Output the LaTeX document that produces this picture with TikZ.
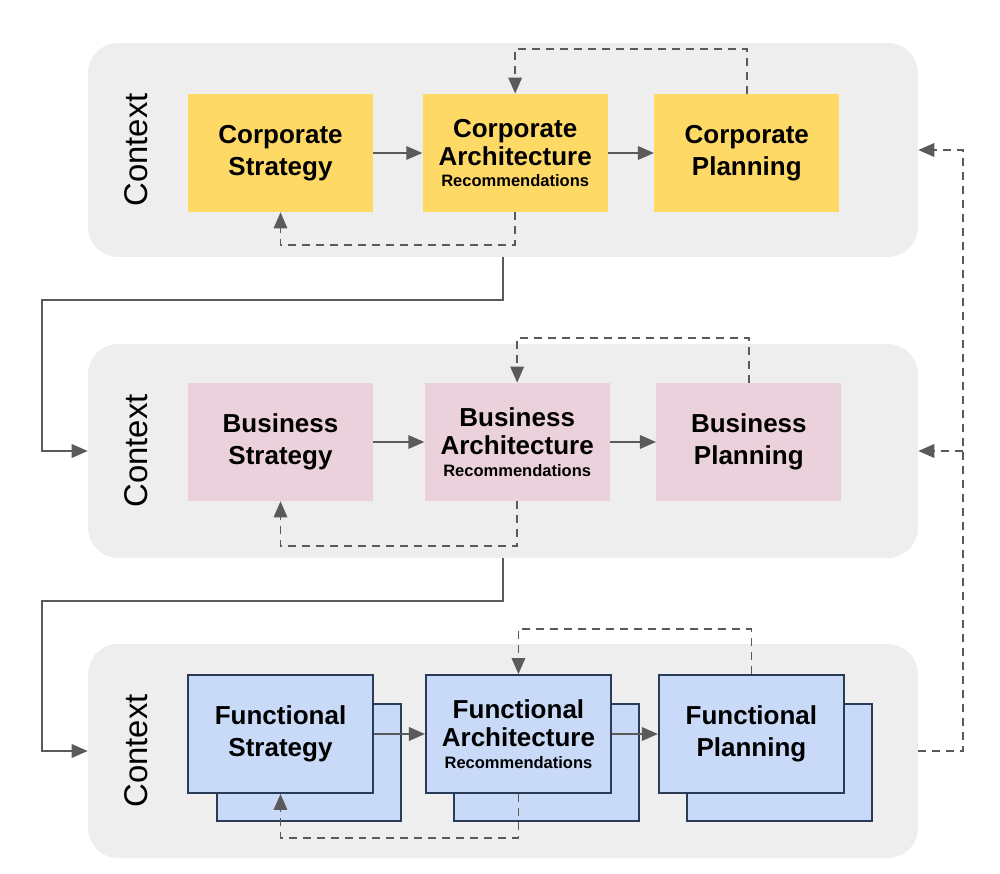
\documentclass[tikz,border=0pt]{standalone}
\usepackage{fontspec}
\setmainfont{Liberation Sans}
\usetikzlibrary{positioning,arrows.meta,shadows}

\definecolor{bandgray}{HTML}{EEEEEE}
\definecolor{corpyellow}{HTML}{FFD966}
\definecolor{buspink}{HTML}{EAD1DC}
\definecolor{funcblue}{HTML}{C9DAF8}
\definecolor{funcedge}{HTML}{2A3B57}
\definecolor{linegray}{HTML}{5A5A5A}

\begin{document}
\begin{tikzpicture}[
        x=0.02cm, y=-0.02cm,
        band/.style={
            rectangle, rounded corners=0.6cm, fill=bandgray, minimum width=16.6cm, minimum height=4.28cm
        },
        context/.style={
            rotate=90, font=\fontsize{18.7}{22}\selectfont
        },
        stage/.style={
            rectangle, minimum width=3.7cm, minimum height=2.36cm, align=center, inner sep=0pt,
            font=\fontsize{14.8}{18.2}\selectfont\bfseries
        },
        archstage/.style={
            stage, font=\fontsize{14.8}{15.9}\selectfont\bfseries
        },
        corporate/.style={fill=corpyellow},
        business/.style={fill=buspink},
        functional/.style={
            fill=funcblue, draw=funcedge, line width=0.04cm,
            copy shadow={shadow xshift=0.57cm, shadow yshift=-0.57cm, fill=funcblue, draw=funcedge, line width=0.04cm}
        },
        flow/.style={draw=linegray, line width=0.035cm, -{Triangle[length=0.32cm,width=0.27cm]}},
        feedback/.style={flow, dash pattern=on 0.16cm off 0.12cm},
    ]
    \useasboundingbox (0,0) rectangle (1000,874);

    % the three context bands
    \node (corpband) [band] at (503,150) {};
    \node (busband) [band] at (503,451) {};
    \node (funcband) [band] at (503,751) {};
    \node (corpcontext) [context] at ([xshift=0.96cm]corpband.west) {Context};
    \node (buscontext) [context] at ([xshift=0.96cm]busband.west) {Context};
    \node (funccontext) [context] at ([xshift=0.96cm]funcband.west) {Context};

    % corporate level
    \node (cs) [stage,corporate] at (280.5,153) {Corporate\\Strategy};
    \node (ca) [archstage,corporate,right=0.98cm of cs] {Corporate\\Architecture\\[-3.5pt]{\fontsize{9.4}{11}\selectfont Recommendations}};
    \node (cp) [stage,corporate,right=0.92cm of ca] {Corporate\\Planning};
    \draw[flow] (cs) -- (ca);
    \draw[flow] (ca) -- (cp);
    \draw[feedback] (cp.north) -- ++(0,-45) -| (ca.north);
    \draw[feedback] (ca.south) -- ++(0,33) -| (cs.south);

    % business level
    \node (bs) [stage,business] at (280.5,442) {Business\\Strategy};
    \node (ba) [archstage,business,right=1.02cm of bs] {Business\\Architecture\\[-3.5pt]{\fontsize{9.4}{11}\selectfont Recommendations}};
    \node (bp) [stage,business,right=0.92cm of ba] {Business\\Planning};
    \draw[flow] (bs) -- (ba);
    \draw[flow] (ba) -- (bp);
    \draw[feedback] (bp.north) -- ++(0,-45) -| (ba.north);
    \draw[feedback] (ba.south) -- ++(0,45) -| (bs.south);

    % functional level
    \node (fs) [stage,functional] at (280.5,734) {Functional\\Strategy};
    \node (fa) [archstage,functional,right=1.02cm of fs] {Functional\\Architecture\\[-3.5pt]{\fontsize{9.4}{11}\selectfont Recommendations}};
    \node (fp) [stage,functional,right=0.92cm of fa] {Functional\\Planning};
    \draw[flow] (fs) -- (fa);
    \draw[flow] (fa) -- (fp);
    \draw[feedback] (fp.north) -- ++(0,-45) -| (fa.north);
    \draw[feedback] (fa.south) -- ++(0,44) -| (fs.south);

    % links between the bands
    \draw[flow] (corpband.south) -- ++(0,43) -- ++(-461,0) |- (busband.west);
    \draw[flow] (busband.south) -- ++(0,43) -- ++(-461,0) |- (funcband.west);
    \coordinate (rail) at ([xshift=0.9cm]funcband.east);
    \draw[feedback] (funcband.east) -- (rail) |- (corpband.east);
    \draw[feedback] (rail |- busband.east) -- (busband.east);

\end{tikzpicture}
\end{document}
